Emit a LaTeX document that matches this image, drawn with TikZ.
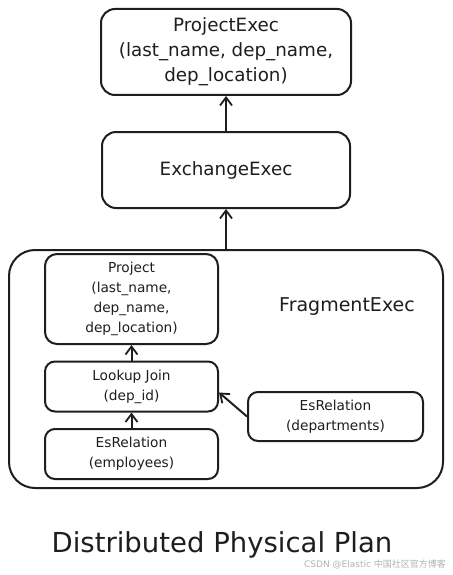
\documentclass[tikz,border=0pt]{standalone}
\usepackage{fontspec}
\setmainfont{DejaVu Sans}
\newfontfamily\cjkfont{Noto Sans CJK SC}
\usetikzlibrary{arrows.meta}
\definecolor{ink}{HTML}{1E1E1E}
\tikzset{
  box/.style={draw=ink, line width=2pt, rectangle, rounded corners=#1, align=center, text=ink, inner sep=0pt},
  box/.default=14pt,
  arr/.style={draw=ink, line width=2pt, -{Straight Barb[length=8pt,width=12pt,line width=1.8pt]}},
}
\begin{document}
\begin{tikzpicture}[x=1pt,y=-1pt]
\useasboundingbox (0,0) rectangle (452,575);
\fill[white] (0,0) rectangle (452,575);
% top boxes
\node[box, minimum width=250pt, minimum height=86pt, font=\fontsize{18.3}{25}\selectfont] (pe) at (226,52)
  {ProjectExec\\(last\_name, dep\_name,\\dep\_location)};
\node[box, minimum width=248pt, minimum height=76pt, font=\fontsize{18.3}{25}\selectfont] (ex) at (226,170) {ExchangeExec};
% fragment
\node[box=26pt, minimum width=434pt, minimum height=238pt] (fr) at (226,369) {};
\node[text=ink, font=\fontsize{19}{22}\selectfont] (frl) at (347,307) {FragmentExec};
% inner boxes
\node[box=12pt, minimum width=173pt, minimum height=90pt, font=\fontsize{13.7}{20}\selectfont] (pr) at (131.5,299)
  {Project\\(last\_name,\\dep\_name,\\dep\_location)};
\node[box=10pt, minimum width=173pt, minimum height=50pt, font=\fontsize{13.7}{20}\selectfont] (lk) at (131.5,386.5)
  {Lookup Join\\(dep\_id)};
\node[box=10pt, minimum width=173pt, minimum height=50pt, font=\fontsize{13.7}{20}\selectfont] (em) at (131.5,454)
  {EsRelation\\(employees)};
\node[box=10pt, minimum width=175pt, minimum height=49pt, font=\fontsize{13.7}{20}\selectfont] (dp) at (335.5,416.5)
  {EsRelation\\(departments)};
% connectors
\draw[arr] (ex.north) -- (pe.south);
\draw[arr] (fr.north) -- (ex.south);
\draw[arr] (lk.north) -- (pr.south);
\draw[arr] (em.north) -- (lk.south);
\draw[arr] (dp.west) -- ([yshift=-6pt]lk.east);
% title
\node[text=ink, font=\fontsize{27.5}{30}\selectfont] (title) at (222,545) {Distributed Physical Plan};
\node[text=black!30, font=\fontsize{9}{10}\selectfont] (wm) at (375,564) {CSDN @Elastic {\cjkfont 中国社区官方博客}};
\end{tikzpicture}
\end{document}
